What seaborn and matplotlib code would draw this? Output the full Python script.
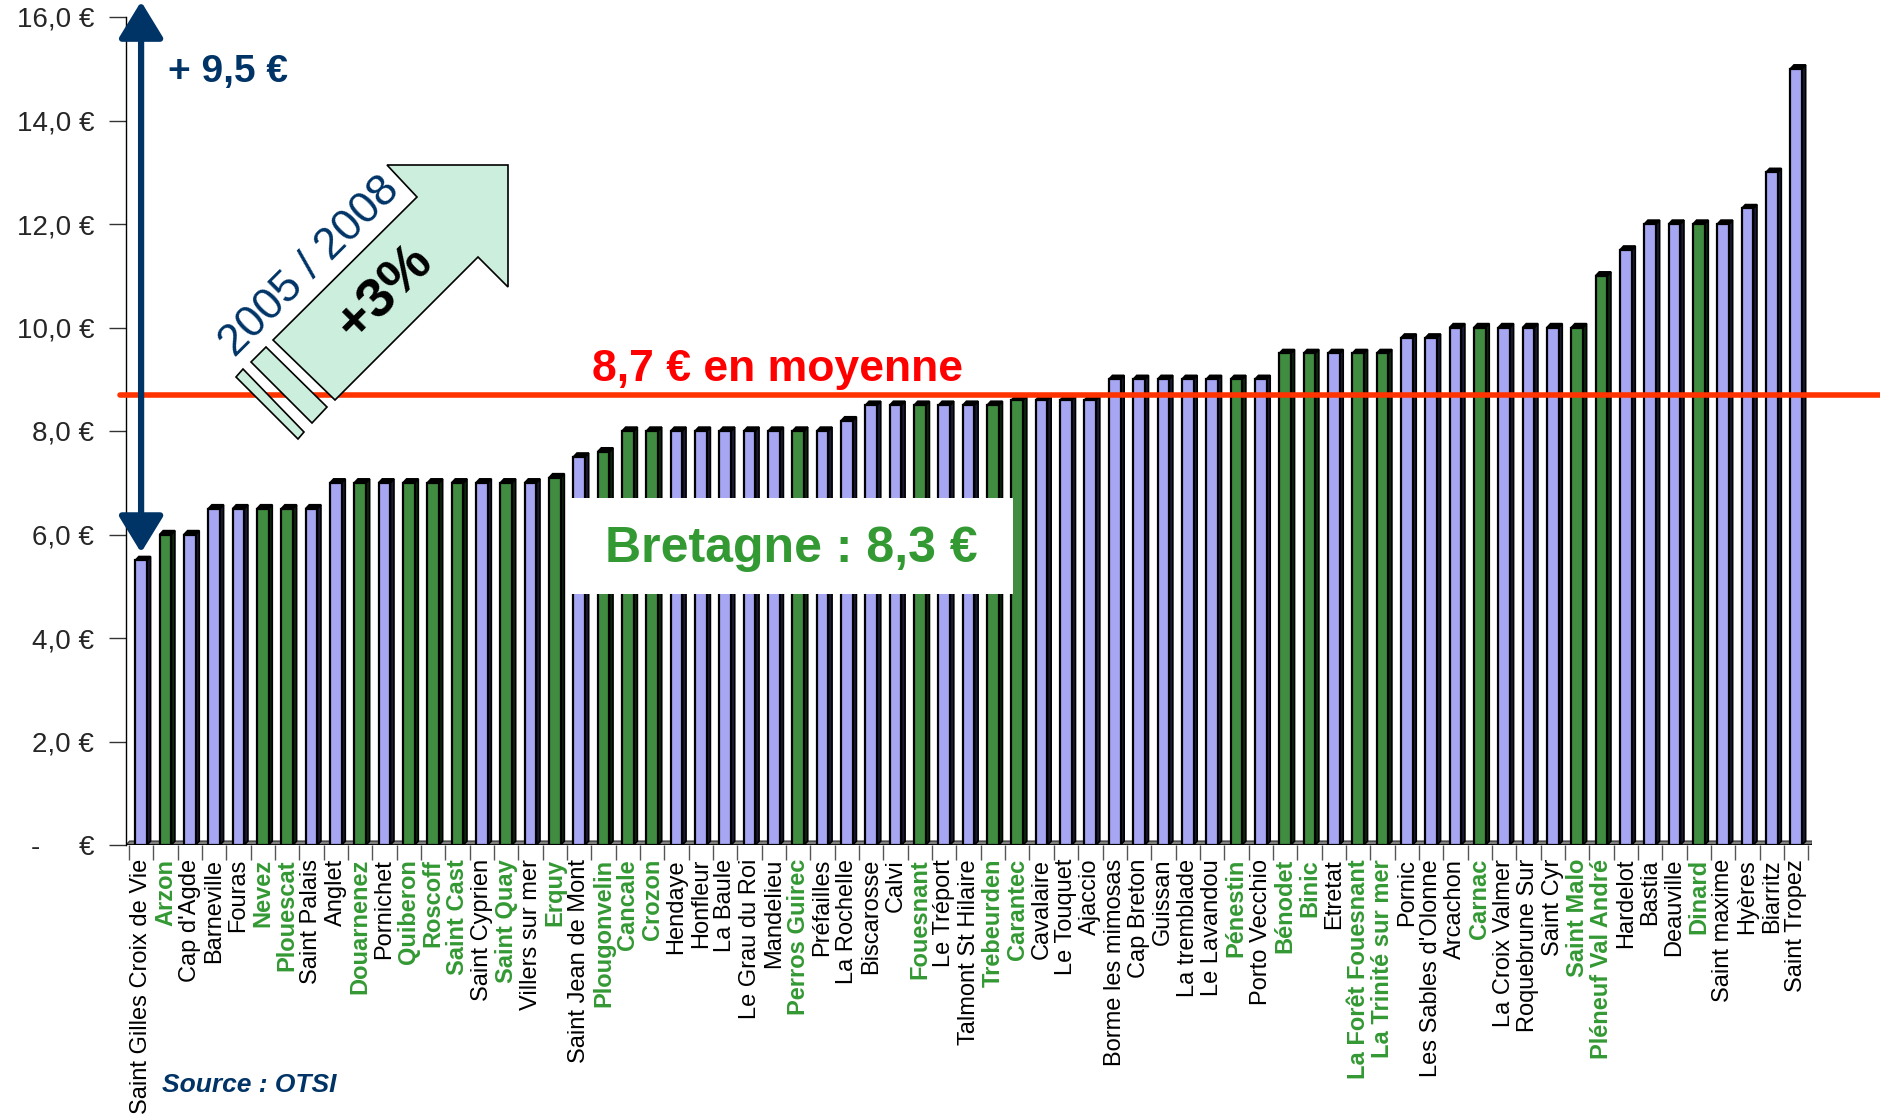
import matplotlib
matplotlib.use("Agg")
import matplotlib.pyplot as plt
import pandas as pd
import seaborn as sns
from matplotlib.patches import Polygon, Rectangle

# ---- data ----
stations = [
    "Saint Gilles Croix de Vie", "Arzon", "Cap d'Agde", "Barneville", "Fouras",
    "Nevez", "Plouescat", "Saint Palais", "Anglet", "Douarnenez", "Pornichet",
    "Quiberon", "Roscoff", "Saint Cast", "Saint Cyprien", "Saint Quay",
    "Villers sur mer", "Erquy", "Saint Jean de Mont", "Plougonvelin", "Cancale",
    "Crozon", "Hendaye", "Honfleur", "La Baule", "Le Grau du Roi", "Mandelieu",
    "Perros Guirec", "Préfailles", "La Rochelle", "Biscarosse", "Calvi",
    "Fouesnant", "Le Tréport", "Talmont St Hilaire", "Trebeurden", "Carantec",
    "Cavalaire", "Le Touquet", "Ajaccio", "Borme les mimosas", "Cap Breton",
    "Guissan", "La tremblade", "Le Lavandou", "Pénestin", "Porto Vecchio",
    "Bénodet", "Binic", "Etretat", "La Forêt Fouesnant", "La Trinité sur mer",
    "Pornic", "Les Sables d'Olonne", "Arcachon", "Carnac", "La Croix Valmer",
    "Roquebrune Sur", "Saint Cyr", "Saint Malo", "Pléneuf Val André", "Hardelot",
    "Bastia", "Deauville", "Dinard", "Saint maxime", "Hyères", "Biarritz",
    "Saint Tropez",
]
prix = [
    5.5, 6.0, 6.0, 6.5, 6.5, 6.5, 6.5, 6.5, 7.0, 7.0, 7.0, 7.0, 7.0, 7.0, 7.0,
    7.0, 7.0, 7.1, 7.5, 7.6, 8.0, 8.0, 8.0, 8.0, 8.0, 8.0, 8.0, 8.0, 8.0, 8.2,
    8.5, 8.5, 8.5, 8.5, 8.5, 8.5, 8.6, 8.6, 8.6, 8.6, 9.0, 9.0, 9.0, 9.0, 9.0,
    9.0, 9.0, 9.5, 9.5, 9.5, 9.5, 9.5, 9.8, 9.8, 10.0, 10.0, 10.0, 10.0, 10.0,
    10.0, 11.0, 11.5, 12.0, 12.0, 12.0, 12.0, 12.3, 13.0, 15.0,
]
bretagne = [
    0, 1, 0, 0, 0, 1, 1, 0, 0, 1, 0, 1, 1, 1, 0, 1, 0, 1, 0, 1, 1, 1, 0, 0, 0,
    0, 0, 1, 0, 0, 0, 0, 1, 0, 0, 1, 1, 0, 0, 0, 0, 0, 0, 0, 0, 1, 0, 1, 1, 0,
    1, 1, 0, 0, 0, 1, 0, 0, 0, 1, 1, 0, 0, 0, 1, 0, 0, 0, 0,
]
y_ticks = [0, 2, 4, 6, 8, 10, 12, 14, 16]
y_ticklabels = ["-     €", "2,0 €", "4,0 €", "6,0 €", "8,0 €", "10,0 €",
                "12,0 €", "14,0 €", "16,0 €"]
moyenne = 8.7
moyenne_bretagne = 8.3

BLUE = "#9999FF"
GREEN = "#339933"
NAVY = "#003366"
RED = "#FF3300"

W, H = 1880, 1117

df = pd.DataFrame({
    "station": stations,
    "prix": prix,
    "region": ["Bretagne" if b else "Autre" for b in bretagne],
})

sns.set_theme(style="white")
plt.rcParams["font.family"] = ["Liberation Sans", "DejaVu Sans"]


def fx(x, y):
    """pixel position (top-left origin) -> figure fraction"""
    return (x / W, 1 - y / H)


fig = plt.figure(figsize=(W / 100, H / 100), dpi=100)
ax = fig.add_axes([126 / W, 1 - 845 / H, (1812 - 126) / W, (845 - 17) / H])

sns.barplot(data=df, x="station", y="prix", hue="region",
            palette={"Bretagne": GREEN, "Autre": BLUE}, dodge=False,
            width=0.48, edgecolor="black", linewidth=1.6, legend=False,
            ax=ax, zorder=3)

# fake 3D: dark side face + top cap on every bar
d, dy = 0.15, 0.075
for p in list(ax.patches):
    h = p.get_height()
    if h <= 0:
        continue
    x0, x1 = p.get_x(), p.get_x() + p.get_width()
    fc = p.get_facecolor()
    side = "#0d260d" if fc[2] < 0.5 else "#1a1a33"
    ax.add_patch(Polygon([(x1, 0), (x1 + d, dy), (x1 + d, h + dy), (x1, h)],
                         closed=True, fc=side, ec="black", lw=1.2, zorder=2.9))
    ax.add_patch(Polygon([(x0, h), (x0 + d, h + dy), (x1 + d, h + dy), (x1, h)],
                         closed=True, fc="black", ec="black", lw=1.2, zorder=2.9))

# floor
n = len(stations)
ax.add_patch(Polygon([(-0.62, 0), (n - 0.4, 0), (n - 0.4 + d, dy), (-0.62 + d, dy)],
                     closed=True, fc="#808080", ec="#404040", lw=1, zorder=1))

ax.set_xlim(-0.62, n - 0.35)
ax.set_ylim(0, 16)
ax.set_yticks(y_ticks)
ax.set_yticklabels(y_ticklabels, fontsize=20)
ax.set_xlabel("")
ax.set_ylabel("")

for s in ["top", "right", "bottom"]:
    ax.spines[s].set_visible(False)
ax.spines["left"].set_color("black")
ax.spines["left"].set_linewidth(1)
ax.axhline(0, color="black", lw=1.2, zorder=1.5)

ax.tick_params(axis="y", which="major", left=True, length=12, width=1,
               color="#333333", pad=11)
ax.set_xticks(range(n))
ax.set_xticks([i + 0.5 for i in range(-1, n)], minor=True)
ax.tick_params(axis="x", which="major", bottom=False, pad=4)
ax.tick_params(axis="x", which="minor", bottom=True, length=11, width=1,
               color="#555555")
ax.set_xticklabels(stations, rotation=90, fontsize=17, va="top", ha="center")
for lab, b in zip(ax.get_xticklabels(), bretagne):
    if b:
        lab.set_color(GREEN)
        lab.set_fontweight("bold")
    else:
        lab.set_color("black")

# national average line (runs past the plot to the right edge)
ax.axhline(moyenne, xmin=(120 - 126) / (1812 - 126), xmax=(W - 126) / (1812 - 126),
           color=RED, lw=4, clip_on=False, zorder=6)
ax.text(*fx(778, 369), f"{moyenne:.1f} € en moyenne".replace(".", ","),
        transform=fig.transFigure, ha="center", va="center", color="#FF0000",
        fontsize=32, fontweight="bold", zorder=7)

# Bretagne box
ax.add_patch(Rectangle(fx(570, 594), 443 / W, 96 / H, transform=fig.transFigure,
                       fc="white", ec="none", clip_on=False, zorder=6))
ax.text(*fx(791, 549), f"Bretagne : {moyenne_bretagne:.1f} €".replace(".", ","),
        transform=fig.transFigure, ha="center", va="center", color=GREEN,
        fontsize=36, fontweight="bold", zorder=7)

# range arrow
ax.annotate("", xy=(0, 5.65), xytext=(0, 16.3), annotation_clip=False,
            arrowprops=dict(arrowstyle="<|-|>,head_length=0.9,head_width=0.55",
                            color=NAVY, lw=4.5, mutation_scale=25,
                            shrinkA=0, shrinkB=0), zorder=8)
ax.text(*fx(228, 72), "+ 9,5 €", transform=fig.transFigure, ha="center",
        va="center", color=NAVY, fontsize=28, fontweight="bold")

# big diagonal "growth" arrow
arrow_px = [(387, 165), (508, 165), (508, 287), (478, 257), (335, 400),
            (273, 340), (417, 197)]
strip1_px = [(266, 347), (327, 407), (312, 423), (251, 362)]
strip2_px = [(243, 369), (304, 432), (298, 439), (236, 377)]
for pts in (arrow_px, strip1_px, strip2_px):
    ax.add_patch(Polygon([fx(*p) for p in pts], closed=True,
                         transform=fig.transFigure, fc="#CCEEDD", ec="black",
                         lw=1.2, clip_on=False, zorder=9))
ax.text(*fx(310, 267), "2005 / 2008", transform=fig.transFigure, rotation=45,
        ha="center", va="center", color=NAVY, fontsize=32, zorder=10,
        rotation_mode="anchor")
ax.text(*fx(385, 293), "+3%", transform=fig.transFigure, rotation=45,
        ha="center", va="center", color="black", fontsize=40, fontweight="bold",
        zorder=10, rotation_mode="anchor")

fig.text(*fx(162, 1085), "Source : OTSI", ha="left", va="center", color=NAVY,
         fontsize=19, fontweight="bold", fontstyle="italic")

fig.savefig("out.png", dpi=100)
